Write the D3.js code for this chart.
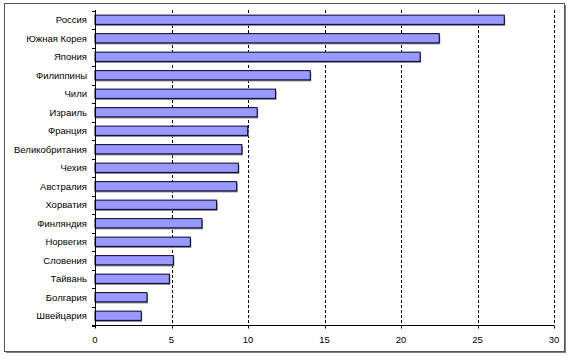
<!DOCTYPE html>
<html><head><meta charset="utf-8">
<script src="https://cdn.jsdelivr.net/npm/d3@7"></script>
<style>body{margin:0;background:#fff}svg{display:block}</style>
</head><body><svg id="c" width="570" height="359"></svg>
<script>
const categories = ["Россия","Южная Корея","Япония","Филиппины","Чили","Израиль","Франция","Великобритания","Чехия","Австралия","Хорватия","Финляндия","Норвегия","Словения","Тайвань","Болгария","Швейцария"];
const values = [26.75,22.5,21.25,14.07,11.8,10.6,9.98,9.6,9.37,9.26,7.95,6.99,6.23,5.12,4.86,3.4,3.02];
const xTicks = [0,5,10,15,20,25,30];

const svg = d3.select("#c");
const font = "'Liberation Sans', Arial, sans-serif";
// frame with shadow
svg.append("rect").attr("x",6).attr("y",5).attr("width",560).attr("height",348).attr("fill","#808080");
svg.append("rect").attr("x",4.5).attr("y",3.5).attr("width",560).attr("height",348).attr("fill","#fff").attr("stroke","#555").attr("stroke-width",1);

const x = d3.scaleLinear().domain([0,30]).range([95,554]);
const y = d3.scaleBand().domain(categories).range([10.5,325]).paddingInner(0.5).paddingOuter(0.25);

// gridlines
svg.append("g").selectAll("line").data(xTicks.slice(1)).join("line")
  .attr("x1",d=>Math.round(x(d))+0.5).attr("x2",d=>Math.round(x(d))+0.5)
  .attr("y1",10).attr("y2",325)
  .attr("stroke","#000").attr("stroke-width",1).attr("stroke-dasharray","3,2");

// bar shadows
svg.append("g").selectAll("rect").data(values).join("rect")
  .attr("x",x(0)+1).attr("y",(d,i)=>y(categories[i])+1.5)
  .attr("width",d=>x(d)-x(0)).attr("height",y.bandwidth())
  .attr("fill","#808080");
// bars
svg.append("g").selectAll("rect").data(values).join("rect")
  .attr("x",x(0)).attr("y",(d,i)=>y(categories[i]))
  .attr("width",d=>x(d)-x(0)).attr("height",y.bandwidth())
  .attr("fill","#9999ff").attr("stroke","#000033").attr("stroke-width",1);

// y axis
const yg = svg.append("g");
yg.append("line").attr("x1",95.5).attr("x2",95.5).attr("y1",10).attr("y2",325).attr("stroke","#000");
yg.selectAll("line.t").data(d3.range(categories.length+1)).join("line").attr("class","t")
  .attr("x1",92).attr("x2",95.5)
  .attr("y1",i=>Math.round(10.5+i*(315/17))+0.5).attr("y2",i=>Math.round(10.5+i*(315/17))+0.5)
  .attr("stroke","#000");
yg.selectAll("text").data(categories).join("text")
  .attr("x",87).attr("y",d=>y(d)+y.bandwidth()/2).attr("dy","0.35em")
  .attr("text-anchor","end").attr("font-family",font).attr("font-size",9.5).attr("fill","#000")
  .text(d=>d);

// x axis
const xg = svg.append("g").attr("transform","translate(0,325.5)");
xg.append("line").attr("x1",92).attr("x2",554).attr("stroke","#000");
xg.selectAll("line.t").data(xTicks).join("line").attr("class","t")
  .attr("x1",d=>Math.round(x(d))+0.5).attr("x2",d=>Math.round(x(d))+0.5).attr("y1",0).attr("y2",3).attr("stroke","#000");
xg.selectAll("text").data(xTicks).join("text")
  .attr("x",d=>x(d)).attr("y",14).attr("dy","0.35em").attr("text-anchor","middle")
  .attr("font-family",font).attr("font-size",9.5).attr("fill","#000").text(d=>d);
</script></body></html>
